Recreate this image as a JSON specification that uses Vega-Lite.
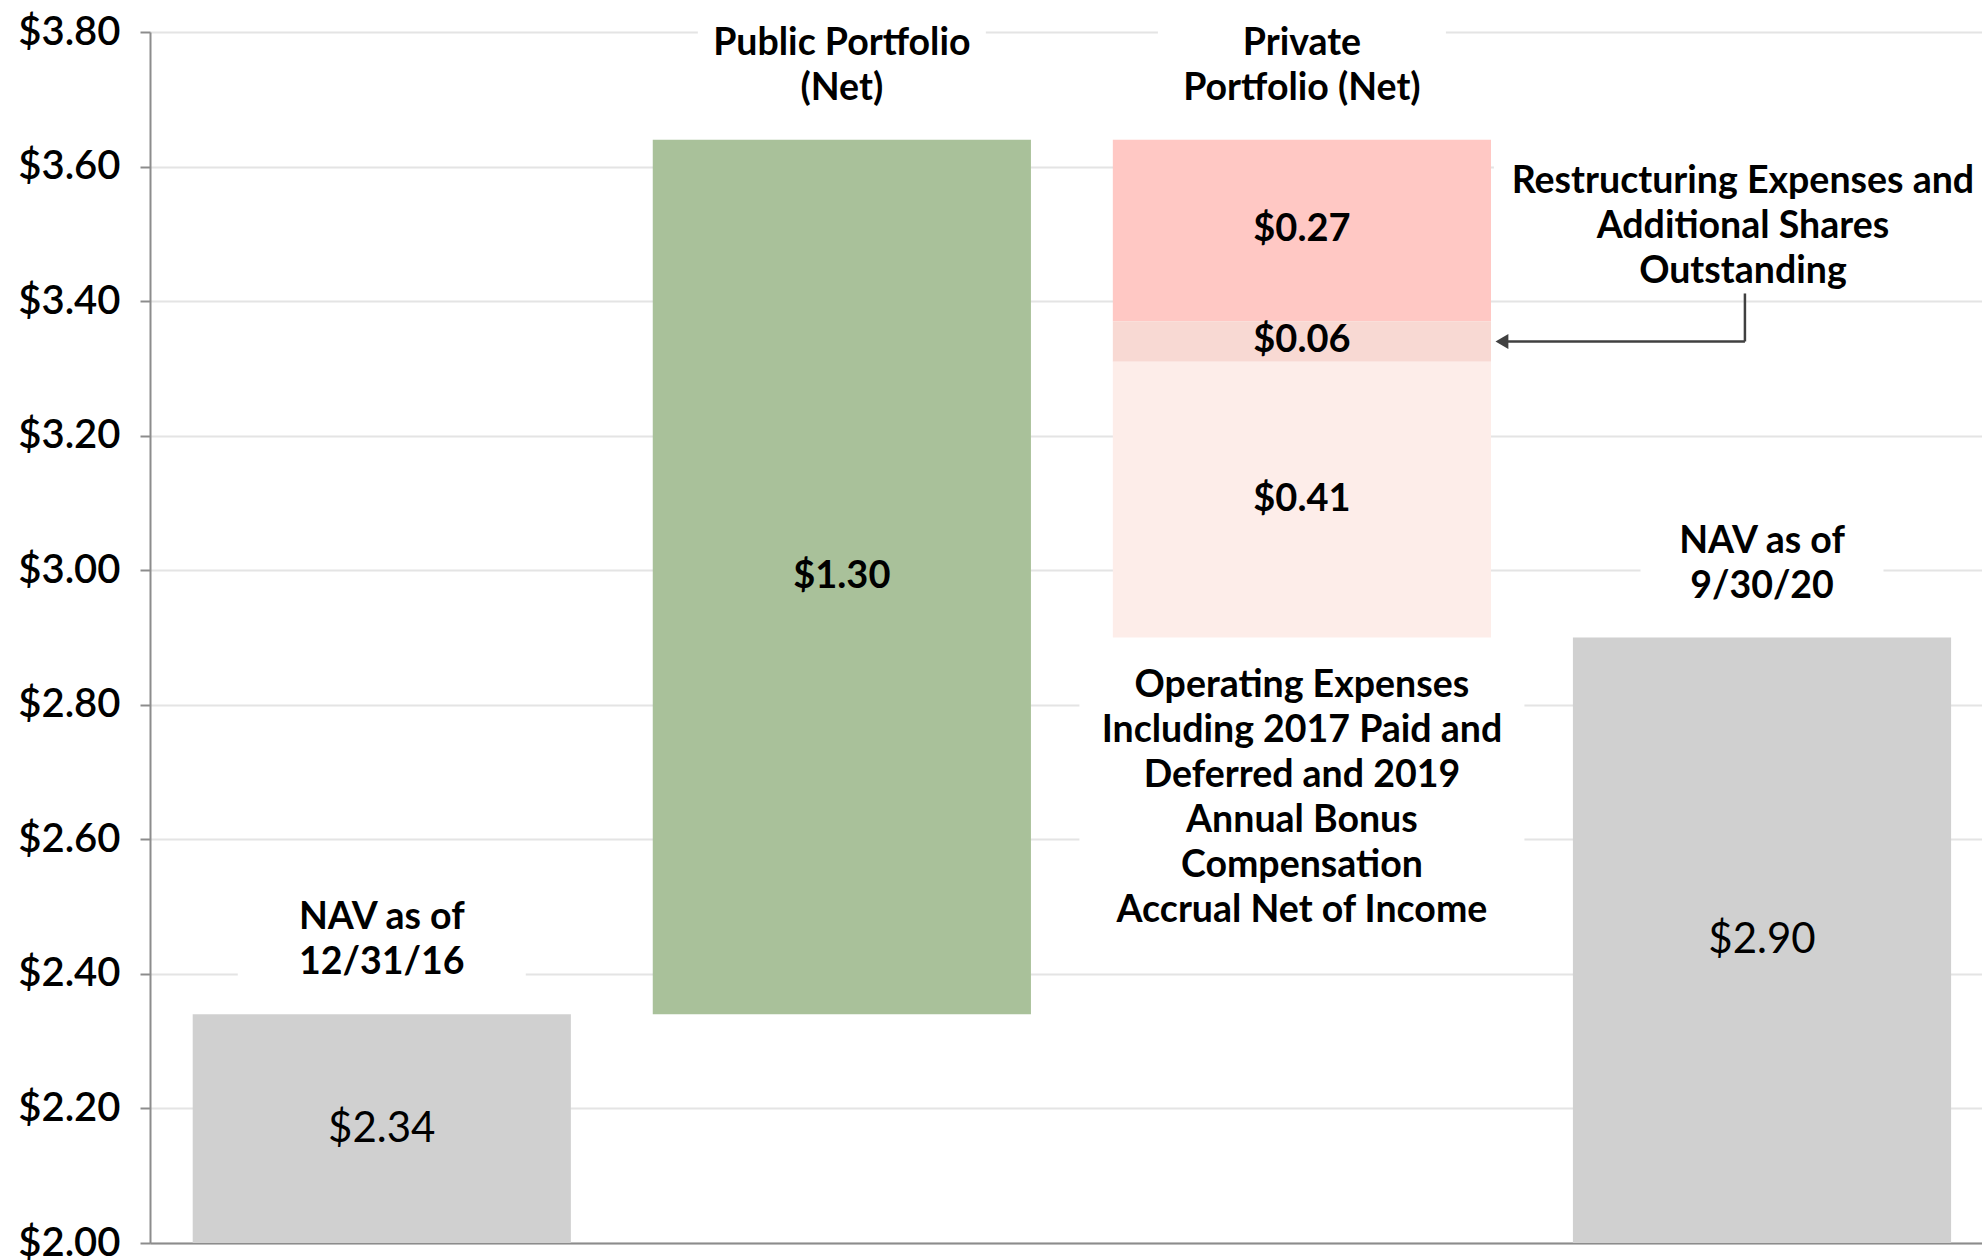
{
  "$schema": "https://vega.github.io/schema/vega-lite/v6.json",
  "width": 1832,
  "height": 1211,
  "autosize": {"type": "none"},
  "padding": {"left": 150, "top": 32, "right": 0, "bottom": 17},
  "background": "white",
  "config": {"view": {"stroke": null}, "font": "Lato"},
  "datasets": {
    "steps": [
      {"cat": "NAV as of\n12/31/16", "part": "NAV start", "start": 2.0, "end": 2.34, "label": "$2.34"},
      {"cat": "Public Portfolio\n(Net)", "part": "Public Portfolio", "start": 2.34, "end": 3.64, "label": "$1.30"},
      {"cat": "Private\nPortfolio (Net)", "part": "Private Portfolio", "start": 3.64, "end": 3.37, "label": "$0.27"},
      {"cat": "Private\nPortfolio (Net)", "part": "Restructuring", "start": 3.37, "end": 3.31, "label": "$0.06", "note": "Restructuring Expenses and\nAdditional Shares\nOutstanding"},
      {"cat": "Private\nPortfolio (Net)", "part": "Operating", "start": 3.31, "end": 2.90, "label": "$0.41", "note": "Operating Expenses\nIncluding 2017 Paid and\nDeferred and 2019\nAnnual Bonus\nCompensation\nAccrual Net of Income"},
      {"cat": "NAV as of\n9/30/20", "part": "NAV end", "start": 2.0, "end": 2.90, "label": "$2.90"}
    ]
  },
  "data": {"name": "steps"},
  "encoding": {
    "x": {
      "field": "cat", "type": "nominal", "sort": null,
      "scale": {"domain": ["NAV as of\n12/31/16", "Public Portfolio\n(Net)", "Private\nPortfolio (Net)", "NAV as of\n9/30/20"], "paddingInner": 0.178, "paddingOuter": 0.08, "align": 0.58},
      "axis": {"labels": false, "ticks": false, "title": null, "grid": false, "domainColor": "#8c8c8c", "domainWidth": 2}
    }
  },
  "layer": [
    {
      "transform": [
        {"fold": ["start", "end"], "as": ["k", "v"]},
        {"aggregate": [{"op": "max", "field": "v", "as": "top"}], "groupby": ["cat"]},
        {"filter": {"not": {"field": "cat", "equal": "NAV as of\n9/30/20"}}}
      ],
      "mark": {"type": "bar", "color": "white", "width": 288, "yOffset": -22, "y2Offset": -130},
      "encoding": {
        "y": {
          "field": "top", "type": "quantitative",
          "scale": {"domain": [2.0, 3.8], "nice": false, "zero": false},
          "axis": {
            "values": [2.0, 2.2, 2.4, 2.6, 2.8, 3.0, 3.2, 3.4, 3.6, 3.8],
            "format": "$.2f", "title": null,
            "labelFont": "Lato", "labelFontSize": 40, "labelFontWeight": 600, "labelColor": "#000000", "labelPadding": 20,
            "tickSize": 10, "tickColor": "#8c8c8c", "tickWidth": 2,
            "domainColor": "#8c8c8c", "domainWidth": 2,
            "gridColor": "#e4e4e4", "gridWidth": 2
          }
        },
        "y2": {"field": "top"}
      }
    },
    {
      "transform": [
        {"fold": ["start", "end"], "as": ["k", "v"]},
        {"aggregate": [{"op": "max", "field": "v", "as": "top"}], "groupby": ["cat"]},
        {"filter": {"field": "cat", "equal": "NAV as of\n9/30/20"}}
      ],
      "mark": {"type": "bar", "color": "white", "width": 243, "yOffset": -22, "y2Offset": -130},
      "encoding": {"y": {"field": "top", "type": "quantitative"}, "y2": {"field": "top"}}
    },
    {
      "transform": [{"filter": {"field": "part", "equal": "Operating"}}],
      "mark": {"type": "bar", "color": "white", "width": 445, "yOffset": 14, "y2Offset": 292},
      "encoding": {"y": {"field": "end", "type": "quantitative"}, "y2": {"field": "end"}}
    },
    {
      "transform": [{"filter": {"field": "part", "equal": "Restructuring"}}],
      "mark": {"type": "bar", "color": "white", "width": 490, "xOffset": 437, "yOffset": -172, "y2Offset": -28},
      "encoding": {"y": {"field": "start", "type": "quantitative"}, "y2": {"field": "start"}}
    },
    {
      "mark": {"type": "bar"},
      "encoding": {
        "y": {"field": "start", "type": "quantitative"},
        "y2": {"field": "end"},
        "color": {
          "field": "part", "type": "nominal", "legend": null,
          "scale": {
            "domain": ["NAV start", "Public Portfolio", "Private Portfolio", "Restructuring", "Operating", "NAV end"],
            "range": ["#d0d0d0", "#a9c19a", "#ffc8c4", "#f8d9d3", "#fdede9", "#d0d0d0"]
          }
        }
      }
    },
    {
      "transform": [
        {"fold": ["start", "end"], "as": ["k", "v"]},
        {"aggregate": [{"op": "mean", "field": "v", "as": "mid"}], "groupby": ["cat", "part", "label"]},
        {"filter": {"not": {"field": "part", "oneOf": ["NAV start", "NAV end"]}}}
      ],
      "mark": {"type": "text", "font": "Lato", "fontSize": 38, "fontWeight": "bold", "color": "#000000", "baseline": "middle", "align": "center"},
      "encoding": {"y": {"field": "mid", "type": "quantitative"}, "text": {"field": "label"}}
    },
    {
      "transform": [
        {"fold": ["start", "end"], "as": ["k", "v"]},
        {"aggregate": [{"op": "mean", "field": "v", "as": "mid"}], "groupby": ["cat", "part", "label"]},
        {"filter": {"field": "part", "oneOf": ["NAV start", "NAV end"]}}
      ],
      "mark": {"type": "text", "font": "Lato", "fontSize": 42, "fontWeight": "normal", "color": "#000000", "baseline": "middle", "align": "center"},
      "encoding": {"y": {"field": "mid", "type": "quantitative"}, "text": {"field": "label"}}
    },
    {
      "transform": [
        {"fold": ["start", "end"], "as": ["k", "v"]},
        {"aggregate": [{"op": "max", "field": "v", "as": "top"}], "groupby": ["cat"]}
      ],
      "mark": {"type": "text", "font": "Lato", "fontSize": 37.5, "fontWeight": "bold", "color": "#000000", "baseline": "middle", "align": "center", "lineBreak": "\n", "lineHeight": 45, "dy": -96},
      "encoding": {"y": {"field": "top", "type": "quantitative"}, "text": {"field": "cat"}}
    },
    {
      "transform": [{"filter": {"field": "part", "equal": "Operating"}}],
      "mark": {"type": "text", "font": "Lato", "fontSize": 37.5, "fontWeight": "bold", "color": "#000000", "baseline": "middle", "align": "center", "lineBreak": "\n", "lineHeight": 45, "dy": 48},
      "encoding": {"y": {"field": "end", "type": "quantitative"}, "text": {"field": "note"}}
    },
    {
      "transform": [{"filter": {"field": "part", "equal": "Restructuring"}}],
      "mark": {"type": "text", "font": "Lato", "fontSize": 37.5, "fontWeight": "bold", "color": "#000000", "baseline": "middle", "align": "center", "lineBreak": "\n", "lineHeight": 45, "dx": 441, "dy": -139},
      "encoding": {"y": {"field": "start", "type": "quantitative"}, "text": {"field": "note"}}
    },
    {
      "transform": [
        {"filter": {"field": "part", "equal": "Restructuring"}},
        {"fold": ["start", "end"], "as": ["k", "v"]},
        {"aggregate": [{"op": "mean", "field": "v", "as": "mid"}], "groupby": ["cat"]}
      ],
      "mark": {"type": "rule", "color": "#404040", "strokeWidth": 2.5, "xOffset": 200, "x2Offset": 443},
      "encoding": {"y": {"field": "mid", "type": "quantitative"}, "x2": {"field": "cat"}}
    },
    {
      "transform": [
        {"filter": {"field": "part", "equal": "Restructuring"}},
        {"fold": ["start", "end"], "as": ["k", "v"]},
        {"aggregate": [{"op": "mean", "field": "v", "as": "mid"}], "groupby": ["cat"]}
      ],
      "mark": {"type": "rule", "color": "#404040", "strokeWidth": 2.5, "xOffset": 443, "y2Offset": -48},
      "encoding": {"y": {"field": "mid", "type": "quantitative"}, "y2": {"field": "mid"}}
    },
    {
      "transform": [
        {"filter": {"field": "part", "equal": "Restructuring"}},
        {"fold": ["start", "end"], "as": ["k", "v"]},
        {"aggregate": [{"op": "mean", "field": "v", "as": "mid"}], "groupby": ["cat"]}
      ],
      "mark": {"type": "point", "shape": "triangle-left", "filled": true, "color": "#404040", "opacity": 1, "size": 220, "xOffset": 200},
      "encoding": {"y": {"field": "mid", "type": "quantitative"}}
    }
  ]
}
